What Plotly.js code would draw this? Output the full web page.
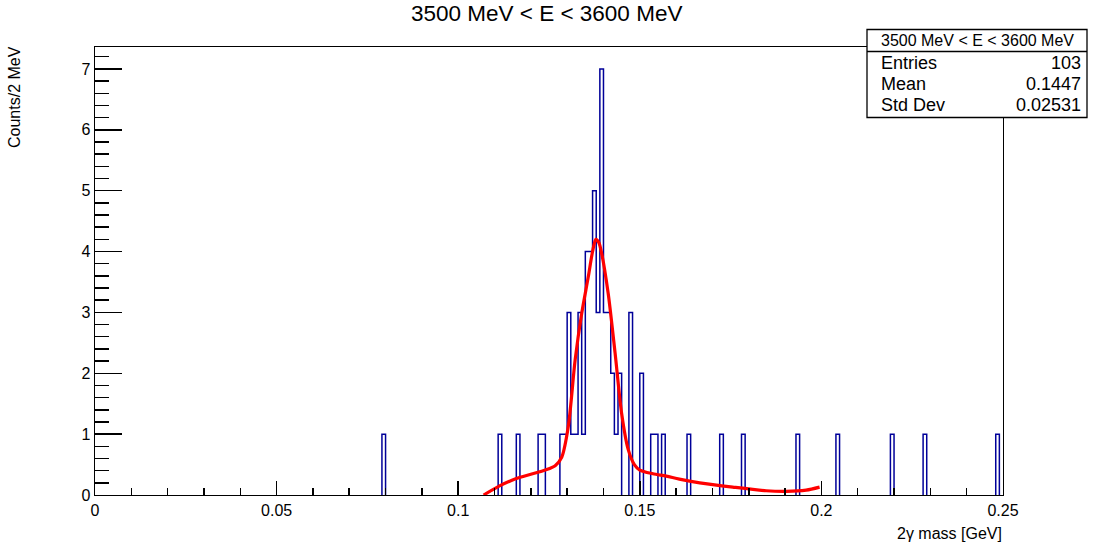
<!DOCTYPE html>
<html>
<head>
<meta charset="utf-8">
<script src="https://cdn.plot.ly/plotly-3.0.1.min.js"></script>
<style>html,body{margin:0;padding:0;background:#fff;}#chart{width:1095px;height:543px;}</style>
</head>
<body>
<div id="chart"></div>
<script>
// Histogram: lower edges (GeV) of non-empty 1 MeV bins and their counts
const binLow = [0.079, 0.111, 0.116, 0.122, 0.123, 0.128, 0.129, 0.130, 0.131, 0.132,
                0.133, 0.134, 0.135, 0.136, 0.137, 0.138, 0.139, 0.140, 0.141, 0.142,
                0.143, 0.144, 0.147, 0.150, 0.153, 0.154, 0.156, 0.163, 0.172, 0.178,
                0.193, 0.204, 0.219, 0.228, 0.248];
const counts = [1, 1, 1, 1, 1, 1, 1, 3, 1, 1,
                3, 1, 4, 4, 5, 3, 7, 3, 3, 2,
                1, 2, 3, 2, 1, 1, 1, 1, 1, 1,
                1, 1, 1, 1, 1];
const binWidth = 0.001;
const xMin = 0, xMax = 0.25;

// Fit curve
const fitX = [0.1070, 0.1114, 0.1160, 0.1200, 0.1240, 0.1267, 0.1285, 0.1303, 0.1322, 0.1340,
              0.1358, 0.1370, 0.1379, 0.1387, 0.1395, 0.1413, 0.1432, 0.1450, 0.1468, 0.1485,
              0.1500, 0.1536, 0.1573, 0.1609, 0.1665, 0.1756, 0.1848, 0.1903, 0.1958, 0.1995];
const fitY = [0.00, 0.15, 0.27, 0.34, 0.41, 0.48, 0.62, 1.12, 2.22, 2.98,
              3.58, 4.00, 4.20, 4.15, 3.97, 3.31, 2.33, 1.34, 0.75, 0.50,
              0.41, 0.35, 0.31, 0.26, 0.20, 0.13, 0.07, 0.06, 0.08, 0.13];

// Stats box texts
const histTitle = "3500 MeV &lt; E &lt; 3600 MeV";
const statNames = ["Entries", "Mean", "Std Dev"];
const statValues = ["103", "0.1447", "0.02531"];

// Build outline of each run of contiguous non-empty bins (null separates runs)
const stepX = [], stepY = [];
let prevEnd = null;
binLow.forEach((b, i) => {
  const hi = b + binWidth;
  const contiguous = prevEnd !== null && Math.abs(prevEnd - b) < binWidth / 10;
  if (!contiguous) {
    if (prevEnd !== null) { stepX.push(prevEnd, null); stepY.push(0, null); }
    stepX.push(b); stepY.push(0);
  }
  stepX.push(b, hi); stepY.push(counts[i], counts[i]);
  prevEnd = hi;
});
stepX.push(prevEnd); stepY.push(0);

const FONT = "Liberation Sans, Arial, Helvetica, sans-serif";

const traces = [
  {x: stepX, y: stepY, type: 'scatter', mode: 'lines', connectgaps: false,
   line: {shape: 'linear', color: '#000099', width: 1.5}, hoverinfo: 'skip'},
  {x: fitX, y: fitY, type: 'scatter', mode: 'lines', line: {shape: 'spline', smoothing: 0.8, color: '#ff0000', width: 3.2},
   hoverinfo: 'skip'}
];

// geometry of the plot area in pixels
const L = 95, R = 1003, T = 47, B = 495, W = 1095, H = 543;
const px = v => (v - L) / (R - L);
const py = v => (B - v) / (B - T);

const sx0 = 867, sx1 = 1087, sy0 = 29.5, sySep = 51.5, sy1 = 117.5;
const shapes = [
  {type: 'rect', xref: 'paper', yref: 'paper', x0: px(sx0), x1: px(sx1), y0: py(sy1), y1: py(sy0),
   line: {color: 'black', width: 1.3}, fillcolor: 'white', layer: 'above'},
  {type: 'line', xref: 'paper', yref: 'paper', x0: px(sx0), x1: px(sx1), y0: py(sySep), y1: py(sySep),
   line: {color: 'black', width: 1.3}, layer: 'above'}
];

const rowY = [62.5, 84, 105];
const annotations = [
  {text: histTitle, xref: 'paper', yref: 'paper', x: px((sx0 + sx1) / 2), y: py(40.5), xanchor: 'center', yanchor: 'middle',
   showarrow: false, font: {family: FONT, size: 16, color: 'black'}},
  {text: 'Counts/2 MeV', xref: 'paper', yref: 'paper', x: px(14), y: py(97), textangle: -90,
   xanchor: 'center', yanchor: 'middle', showarrow: false, font: {family: FONT, size: 16, color: 'black'}},
  {text: '2γ mass [GeV]', xref: 'paper', yref: 'paper', x: px(1004), y: py(533), xanchor: 'right', yanchor: 'middle',
   showarrow: false, font: {family: FONT, size: 16, color: 'black'}}
];
statNames.forEach((n, i) => {
  annotations.push({text: n, xref: 'paper', yref: 'paper', x: px(879), y: py(rowY[i]), xanchor: 'left', yanchor: 'middle',
    showarrow: false, font: {family: FONT, size: 18, color: 'black'}});
  annotations.push({text: statValues[i], xref: 'paper', yref: 'paper', x: px(1083), y: py(rowY[i]), xanchor: 'right', yanchor: 'middle',
    showarrow: false, font: {family: FONT, size: 18, color: 'black'}});
});

const layout = {
  width: W, height: H,
  margin: {l: L, r: W - R, t: T, b: H - B, pad: 0},
  paper_bgcolor: 'white', plot_bgcolor: 'white',
  showlegend: false,
  title: {text: histTitle, x: 546.7 / W, xref: 'container', y: 1 - 13 / H, yref: 'container', xanchor: 'center', yanchor: 'middle',
          font: {family: FONT, size: 22.5, color: 'black'}},
  xaxis: {range: [xMin, xMax], tick0: 0, dtick: 0.05, ticks: 'inside', ticklen: 14, tickwidth: 1.5, tickcolor: 'black',
          minor: {dtick: 0.01, ticks: 'inside', ticklen: 7, tickwidth: 1.5, tickcolor: 'black'},
          showgrid: false, zeroline: false, showline: true, linecolor: 'black', linewidth: 1.3, mirror: true,
          tickfont: {family: FONT, size: 16, color: 'black'}, fixedrange: true},
  yaxis: {range: [0, 7.36], tick0: 0, dtick: 1, ticks: 'inside', ticklen: 27, tickwidth: 1.5, tickcolor: 'black',
          minor: {dtick: 0.2, ticks: 'inside', ticklen: 14, tickwidth: 1.5, tickcolor: 'black'},
          showgrid: false, zeroline: false, showline: true, linecolor: 'black', linewidth: 1.3, mirror: true,
          tickfont: {family: FONT, size: 16, color: 'black'}, fixedrange: true},
  shapes: shapes,
  annotations: annotations
};

Plotly.newPlot('chart', traces, layout, {displayModeBar: false, staticPlot: true});
</script>
</body>
</html>
